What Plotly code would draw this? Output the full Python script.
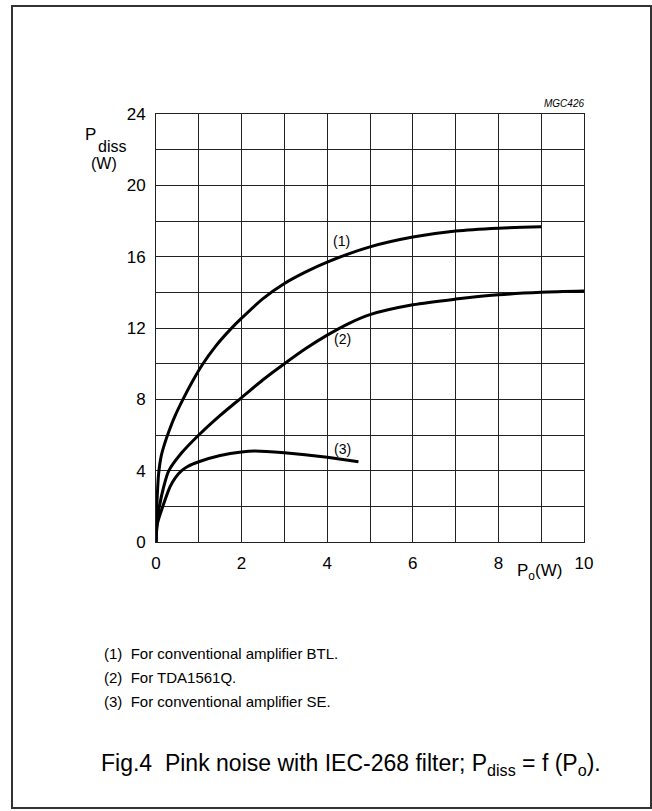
import plotly.graph_objects as go

# ---- data ----
x_btl = [0, 0.01, 0.03, 0.06, 0.12, 0.2, 0.3, 0.45, 0.63, 0.85, 1.07, 1.4, 1.75, 2.0, 2.5, 3.0, 3.5, 4.0, 5.0, 6.0, 7.0, 8.0, 9.0]
y_btl = [0, 1.4, 2.6, 3.8, 4.8, 5.5, 6.2, 7.1, 8.0, 9.0, 9.9, 11.0, 11.95, 12.55, 13.65, 14.5, 15.15, 15.7, 16.55, 17.1, 17.44, 17.6, 17.68]

x_tda = [0, 0.03, 0.08, 0.17, 0.3, 0.6, 1.0, 1.5, 2.0, 2.5, 3.0, 3.5, 4.0, 4.5, 5.0, 6.0, 7.0, 8.0, 9.0, 10.0]
y_tda = [0, 1.2, 2.0, 3.0, 4.0, 5.0, 6.0, 7.1, 8.1, 9.1, 10.0, 10.85, 11.6, 12.25, 12.75, 13.3, 13.62, 13.86, 14.0, 14.07]

x_se = [0, 0.03, 0.16, 0.33, 0.45, 0.6, 0.75, 1.0, 1.5, 2.0, 2.3, 3.0, 4.0, 4.73]
y_se = [0, 1.0, 2.0, 3.1, 3.6, 4.0, 4.25, 4.5, 4.85, 5.05, 5.1, 5.0, 4.75, 4.5]

curve_labels = ["(1)", "(2)", "(3)"]
label_x = [4.33, 4.36, 4.36]
label_y = [16.9, 11.4, 5.2]

x_ticks = [0, 2, 4, 6, 8, 10]
y_ticks = [0, 4, 8, 12, 16, 20, 24]

notes = ["(1)  For conventional amplifier BTL.",
         "(2)  For TDA1561Q.",
         "(3)  For conventional amplifier SE."]

FONT = "Liberation Sans, Arial, sans-serif"

# ---- layout geometry (pixels) ----
W, H = 652, 811
L, R, T, B = 156, 584, 114, 542

def px(xp):
    return (xp - L) / (R - L)

def py(yp):
    return (B - yp) / (B - T)

fig = go.Figure()
for xs, ys in [(x_btl, y_btl), (x_tda, y_tda), (x_se, y_se)]:
    fig.add_trace(go.Scatter(x=xs, y=ys, mode="lines",
                             line=dict(color="black", width=3, shape="spline", smoothing=0.8),
                             showlegend=False, hoverinfo="skip"))

annotations = []
for t, ax, ay in zip(curve_labels, label_x, label_y):
    annotations.append(dict(x=ax, y=ay, xref="x", yref="y", text=t, showarrow=False,
                            xanchor="center", yanchor="middle",
                            font=dict(family=FONT, size=14, color="black")))

def note(xp, yp, text, size, xanchor="left"):
    annotations.append(dict(x=px(xp), y=py(yp), xref="paper", yref="paper",
                            text=text, showarrow=False, xanchor=xanchor, yanchor="middle",
                            font=dict(family=FONT, size=size, color="black")))

# axis titles
note(83, 134, "P", 17)
note(96, 146, "diss", 16)
note(104, 164, "(W)", 16, "center")
note(515, 572, "P<sub>o</sub>(W)", 17)
note(586, 103, "<i>MGC426</i>", 10, "right")

for i, n in enumerate(notes):
    note(102, 653 + 24 * i, n, 15)

note(99, 764, "Fig.4  Pink noise with IEC-268 filter; P<sub>diss</sub> = f (P<sub>o</sub>).", 23)

fig.update_layout(
    width=W, height=H,
    margin=dict(l=L, r=W - R, t=T, b=H - B, pad=0),
    paper_bgcolor="white", plot_bgcolor="white",
    annotations=annotations,
    shapes=[dict(type="rect", xref="paper", yref="paper",
                 x0=px(12), x1=px(651), y0=py(808), y1=py(6),
                 line=dict(color="#333", width=2), layer="below")],
    xaxis=dict(range=[0, 10], tickvals=x_ticks, ticktext=[str(v) for v in x_ticks],
               showgrid=True, gridcolor="#222", gridwidth=1,
               minor=dict(dtick=1, showgrid=True, gridcolor="#222", gridwidth=1),
               showline=True, linecolor="#222", linewidth=1, mirror=True,
               zeroline=False, ticks="", ticklabelstandoff=6,
               tickfont=dict(family=FONT, size=17, color="black")),
    yaxis=dict(range=[0, 24], tickvals=y_ticks, ticktext=[str(v) for v in y_ticks],
               showgrid=True, gridcolor="#222", gridwidth=1,
               minor=dict(dtick=2, showgrid=True, gridcolor="#222", gridwidth=1),
               showline=True, linecolor="#222", linewidth=1, mirror=True,
               zeroline=False, ticks="", ticklabelstandoff=6,
               tickfont=dict(family=FONT, size=17, color="black")),
)

fig.write_html("out.html", config={"displayModeBar": False},
               post_script="document.body.style.margin='0px';")
